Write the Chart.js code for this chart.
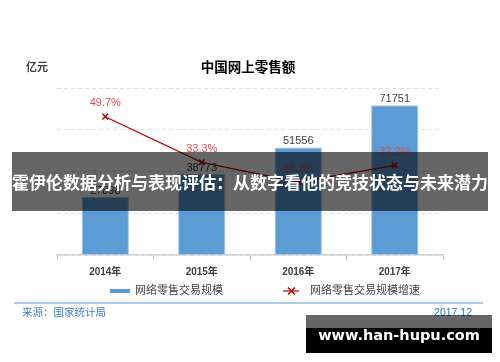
<!DOCTYPE html>
<html><head><meta charset="utf-8">
<script src="https://cdn.jsdelivr.net/npm/chart.js@4.4.1/dist/chart.umd.min.js"></script>
<style>
html,body{margin:0;padding:0;background:#fff;}
#wrap{position:relative;width:500px;height:362px;overflow:hidden;background:#fff;}
#c{position:absolute;left:0;top:0;}
#banner{position:absolute;left:12px;top:152px;width:476px;height:59px;background:rgba(0,0,0,0.6);color:#fff;font-family:"Noto Sans CJK SC",sans-serif;font-weight:bold;font-size:17px;line-height:59px;text-align:center;white-space:nowrap;}
#wm{position:absolute;left:306px;top:315px;width:186px;height:38px;}
#wm .t{position:absolute;left:0;top:0;width:186px;height:13px;background:rgba(0,0,0,0.6);}
#wm .b{position:absolute;left:0;top:13px;width:186px;height:25px;background:#000;}
#wm .txt{position:absolute;left:0;top:8px;width:186px;height:24px;line-height:24px;color:#fff;font-family:"DejaVu Sans",sans-serif;font-weight:bold;font-size:14.5px;text-align:center;white-space:nowrap;}
</style></head>
<body>
<div id="wrap">
<canvas id="c" width="500" height="362"></canvas>
<div id="banner">霍伊伦数据分析与表现评估：从数字看他的竞技状态与未来潜力</div>
<div id="wm"><div class="t"></div><div class="b"></div><div class="txt">www.han-hupu.com</div></div>
</div>
<script>
const categories = ['2014年', '2015年', '2016年', '2017年'];
const salesValues = [27898, 38773, 51556, 71751];
const growthValues = [49.7, 33.3, 26.2, 32.2];
const seriesNames = ['网络零售交易规模', '网络零售交易规模增速'];
const chartTitle = '中国网上零售额';
const unitLabel = '亿元';
const sourceText = '来源：国家统计局';
const dateText = '2017.12';

const FONT = '"Liberation Sans", "Noto Sans CJK SC", sans-serif';
const BLUE = '#5b9bd5';
const RED = '#c00000';

const overlay = {
  id: 'overlay',
  afterDatasetsDraw(chart) {
    const ctx = chart.ctx;
    ctx.save();
    ctx.font = '11px ' + FONT;
    ctx.textAlign = 'center';
    ctx.textBaseline = 'middle';
    const barMeta = chart.getDatasetMeta(0);
    barMeta.data.forEach((el, i) => {
      ctx.fillStyle = '#404040';
      ctx.fillText(String(chart.data.datasets[0].data[i]), el.x, el.y - 6);
    });
    const lineMeta = chart.getDatasetMeta(1);
    lineMeta.data.forEach((el, i) => {
      ctx.fillStyle = '#e04b4b';
      ctx.fillText(chart.data.datasets[1].data[i].toFixed(1) + '%', el.x, el.y - 13.5);
    });
    ctx.restore();
  },
  afterDraw(chart) {
    const ctx = chart.ctx;
    ctx.save();
    ctx.textBaseline = 'middle';
    ctx.textAlign = 'left';
    ctx.fillStyle = '#404040';
    ctx.font = 'bold 11px ' + FONT;
    ctx.fillText(unitLabel, 26, 68);
    ctx.textAlign = 'center';
    ctx.fillStyle = '#000';
    ctx.font = 'bold 13.5px ' + FONT;
    ctx.fillText(chartTitle, 248, 68);
    const ly = 291;
    ctx.strokeStyle = BLUE;
    ctx.lineWidth = 4;
    ctx.beginPath(); ctx.moveTo(110, ly); ctx.lineTo(130, ly); ctx.stroke();
    ctx.font = '11px ' + FONT;
    ctx.fillStyle = '#404040';
    ctx.textAlign = 'left';
    ctx.fillText(chart.data.datasets[0].label, 135, ly);
    ctx.strokeStyle = RED;
    ctx.lineWidth = 1.2;
    ctx.beginPath(); ctx.moveTo(283, ly); ctx.lineTo(299, ly); ctx.stroke();
    ctx.lineWidth = 1.5;
    ctx.beginPath();
    ctx.moveTo(288, ly - 3.5); ctx.lineTo(295, ly + 3.5);
    ctx.moveTo(295, ly - 3.5); ctx.lineTo(288, ly + 3.5);
    ctx.stroke();
    ctx.fillText(chart.data.datasets[1].label, 310, ly);
    ctx.strokeStyle = '#a9cbe9';
    ctx.lineWidth = 2;
    ctx.beginPath(); ctx.moveTo(14, 303); ctx.lineTo(483, 303); ctx.stroke();
    ctx.font = '10.5px ' + FONT;
    ctx.fillStyle = '#3e7dc0';
    ctx.textAlign = 'left';
    ctx.fillText(sourceText, 22, 313.5);
    ctx.textAlign = 'right';
    ctx.fillStyle = '#2e75b6';
    ctx.fillText(dateText, 472, 313);
    ctx.restore();
  }
};

new Chart(document.getElementById('c'), {
  data: {
    labels: categories,
    datasets: [
      {
        type: 'bar',
        label: seriesNames[0],
        data: salesValues,
        backgroundColor: BLUE,
        borderColor: '#9ec2e6',
        borderWidth: 1,
        barPercentage: 0.49,
        categoryPercentage: 1,
        yAxisID: 'y',
        order: 2
      },
      {
        type: 'line',
        label: seriesNames[1],
        data: growthValues,
        borderColor: RED,
        borderWidth: 1.2,
        pointStyle: 'crossRot',
        pointRadius: 4,
        pointBorderColor: RED,
        pointBorderWidth: 1.5,
        pointBackgroundColor: RED,
        tension: 0,
        fill: false,
        yAxisID: 'y1',
        order: 1
      }
    ]
  },
  options: {
    responsive: false,
    animation: false,
    devicePixelRatio: 1,
    layout: { padding: { left: 57, right: 57, top: 88, bottom: 60 } },
    plugins: { legend: { display: false }, tooltip: { enabled: false }, title: { display: false } },
    scales: {
      x: {
        type: 'category',
        offset: true,
        grid: { display: true, drawOnChartArea: false, drawTicks: true, tickLength: 5, color: '#bfbfbf', offset: true },
        border: { display: true, color: '#d0d0d0', width: 1.5 },
        ticks: { color: '#404040', font: { size: 10, weight: 'bold', family: FONT }, padding: 6 },
        afterFit(s) { s.height = 47; }
      },
      y: {
        position: 'left',
        min: 0, max: 80000,
        ticks: { display: false, stepSize: 20000 },
        grid: { color: '#e0e0e0', drawTicks: false, lineWidth: 1 },
        border: { display: false, dash: [4, 3] },
        afterFit(s) { s.width = 0; }
      },
      y1: {
        position: 'right',
        min: 0, max: 60,
        display: false
      }
    }
  },
  plugins: [overlay]
});
</script>
</body></html>
